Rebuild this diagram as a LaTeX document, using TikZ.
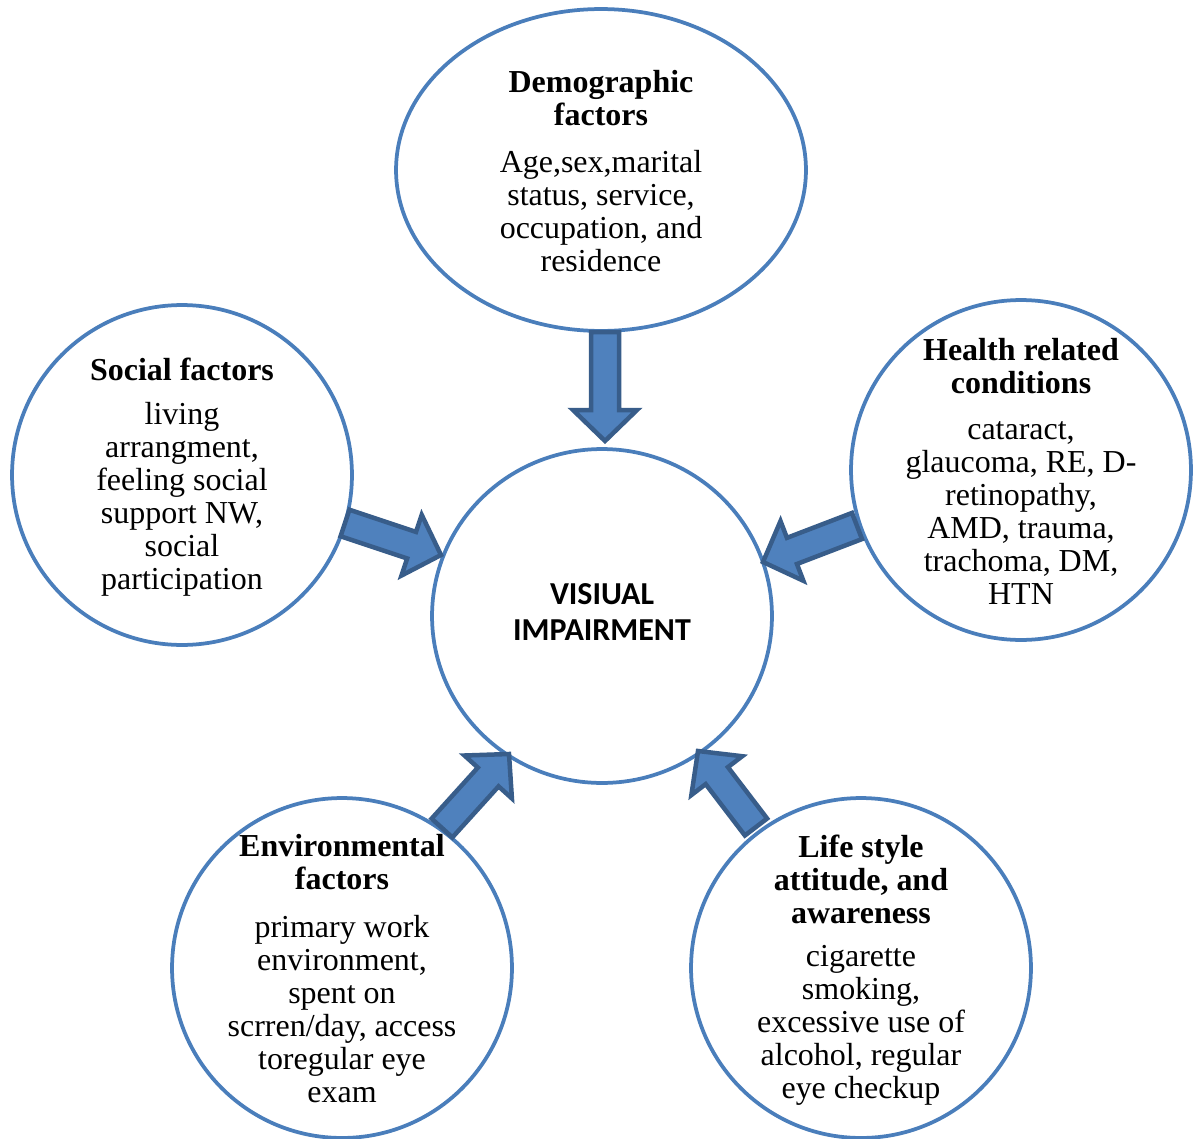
\documentclass[tikz,border=0pt]{standalone}
\usepackage{fontspec}
\setmainfont{Liberation Serif}
\newfontfamily\calibfont{Carlito}
\usetikzlibrary{shapes.geometric,calc}
\definecolor{ringblue}{HTML}{4A7EBB}
\definecolor{arrfill}{HTML}{4F81BD}
\definecolor{arrline}{HTML}{385D8A}
\newcommand{\blockarrow}[2]{%
\draw[blockarr] ($(#1)!0.28cm!90:(#2)$) -- ($(#2)!0.62cm!(#1)!0.28cm!-90:(#1)$) -- ($(#2)!0.62cm!(#1)!0.64cm!-90:(#1)$) -- (#2) -- ($(#2)!0.62cm!(#1)!0.64cm!90:(#1)$) -- ($(#2)!0.62cm!(#1)!0.28cm!90:(#1)$) -- ($(#1)!0.28cm!-90:(#2)$) -- cycle;}
\tikzset{
  ring/.style={ellipse, draw=ringblue, line width=0.075cm, fill=white, minimum width=6.8cm, minimum height=6.8cm, inner sep=0pt},
  blockarr/.style={fill=arrfill, draw=arrline, line width=0.09cm, line join=miter},
  ttl/.style={align=center, font=\fontsize{18.2}{18.8}\selectfont\bfseries, inner sep=0pt},
  body/.style={align=center, font=\fontsize{18.2}{18.8}\selectfont, inner sep=0pt},
}
\begin{document}
\begin{tikzpicture}[x=0.02cm,y=-0.02cm]
\useasboundingbox (0,0) rectangle (1194,1139);
% circles
\node[ring, minimum width=8.2cm, minimum height=6.44cm] (demo) at (601,170) {};
\node[ring] (social) at (182,475) {};
\node[ring] (health) at (1021,470) {};
\node[ring, minimum height=6.68cm] (center) at (602,616) {};
\node[ring] (env) at (342,968) {};
\node[ring] (life) at (861,968) {};
% texts
\node[ttl] (demoT) at (601,98) {Demographic\\factors};
\node[body] (demoB) at (601,211) {Age,sex,marital\\status, service,\\occupation, and\\residence};
\node[ttl] (socialT) at (182,369) {Social factors};
\node[body] (socialB) at (182,499) {living\\arrangment,\\feeling social\\support NW,\\social\\participation};
\node[ttl] (healthT) at (1021,366) {Health related\\conditions};
\node[body] (healthB) at (1021,513) {cataract,\\glaucoma, RE, D-\\retinopathy,\\AMD, trauma,\\trachoma, DM,\\HTN};
\node[ttl] (envT) at (342,862) {Environmental\\factors};
\node[body] (envB) at (342,1009) {primary work\\environment,\\spent on\\scrren/day, access\\toregular eye\\exam};
\node[ttl] (lifeT) at (861,879) {Life style\\attitude, and\\awareness};
\node[body] (lifeB) at (861,1025) {cigarette\\smoking,\\excessive use of\\alcohol, regular\\eye checkup};
\node[align=center, inner sep=0pt, font=\calibfont\fontsize{18.2}{20.3}\selectfont\bfseries] (centerT) at (602,612) {VISIUAL\\IMPAIRMENT};
% arrow end points
\coordinate (a1) at (605,332); \coordinate (b1) at (605,441);
\coordinate (a2) at (345,523); \coordinate (b2) at (441,555);
\coordinate (a3) at (857,526); \coordinate (b3) at (763,562);
\coordinate (a4) at (442,828); \coordinate (b4) at (509,754);
\coordinate (a5) at (756,827); \coordinate (b5) at (698,751);
\blockarrow{a1}{b1}
\blockarrow{a2}{b2}
\blockarrow{a3}{b3}
\blockarrow{a4}{b4}
\blockarrow{a5}{b5}
\end{tikzpicture}
\end{document}
